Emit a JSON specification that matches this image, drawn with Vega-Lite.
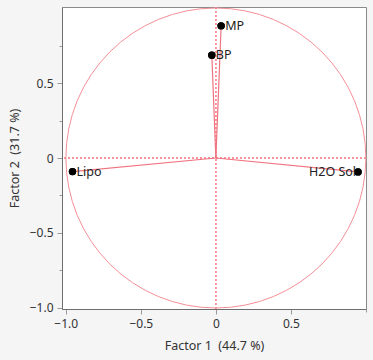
{
  "$schema": "https://vega.github.io/schema/vega-lite/v6.json",
  "width": 304,
  "height": 302,
  "autosize": {"type": "none"},
  "padding": {"left": 62, "top": 7, "right": 7, "bottom": 51},
  "background": "#f5f5f5",
  "config": {
    "view": {"fill": "white", "stroke": "#8a8a8a", "strokeWidth": 1},
    "font": "Noto Sans",
    "axis": {
      "grid": false,
      "domainColor": "#6e6e6e",
      "tickColor": "#9a9a9a",
      "labelColor": "#333333",
      "titleColor": "#333333",
      "labelFontSize": 12,
      "titleFontSize": 12.5,
      "titleFontWeight": "normal",
      "labelFont": "Noto Sans",
      "titleFont": "Noto Sans"
    }
  },
  "datasets": {
    "loadings": [
      {"variable": "MP", "f1": 0.035, "f2": 0.884},
      {"variable": "BP", "f1": -0.027, "f2": 0.687},
      {"variable": "Lipo", "f1": -0.955, "f2": -0.091},
      {"variable": "H2O Sol", "f1": 0.947, "f2": -0.093}
    ],
    "origin": [{"cx": 0, "cy": 0}]
  },
  "data": {"name": "loadings"},
  "layer": [
    {
      "mark": {"type": "point", "shape": "circle", "filled": true, "size": 55, "color": "black", "opacity": 1},
      "encoding": {
        "x": {
          "field": "f1", "type": "quantitative",
          "scale": {"domain": [-1.025, 1.0], "nice": false, "zero": false},
          "axis": {
            "values": [-1, -0.75, -0.5, -0.25, 0, 0.25, 0.5, 0.75, 1],
            "labelExpr": "datum.value == 0 ? '0' : (datum.value == -1 || datum.value == -0.5 || datum.value == 0.5) ? format(datum.value, '.1f') : ''",
            "tickSize": {"condition": {"test": "datum.value == -1 || datum.value == -0.5 || datum.value == 0 || datum.value == 0.5", "value": 5}, "value": 3},
            "title": "Factor 1\u00a0 (44.7 %)",
            "labelPadding": 4,
            "titlePadding": 10
          }
        },
        "y": {
          "field": "f2", "type": "quantitative",
          "scale": {"domain": [-1.01, 1.01], "nice": false, "zero": false},
          "axis": {
            "values": [-1, -0.75, -0.5, -0.25, 0, 0.25, 0.5, 0.75],
            "labelExpr": "datum.value == 0 ? '0' : (datum.value == -1 || datum.value == -0.5 || datum.value == 0.5) ? format(datum.value, '.1f') : ''",
            "tickSize": {"condition": {"test": "datum.value == -1 || datum.value == -0.5 || datum.value == 0 || datum.value == 0.5", "value": 5}, "value": 3},
            "title": "Factor 2\u00a0 (31.7 %)",
            "labelPadding": 4,
            "titlePadding": 8
          }
        }
      }
    },
    {
      "mark": {"type": "rule", "color": "#f58f97", "strokeDash": [2, 2], "strokeWidth": 1},
      "encoding": {"x": {"datum": 0, "type": "quantitative"}}
    },
    {
      "mark": {"type": "rule", "color": "#f58f97", "strokeDash": [2, 2], "strokeWidth": 1},
      "encoding": {"y": {"datum": 0, "type": "quantitative"}}
    },
    {
      "data": {"name": "origin"},
      "mark": {"type": "point", "shape": "circle", "filled": false, "size": 90000, "color": "#f58f97", "strokeWidth": 1, "opacity": 1},
      "encoding": {
        "x": {"field": "cx", "type": "quantitative"},
        "y": {"field": "cy", "type": "quantitative"}
      }
    },
    {
      "mark": {"type": "rule", "color": "#f07480", "strokeWidth": 1.2},
      "encoding": {
        "x": {"field": "f1", "type": "quantitative"},
        "y": {"field": "f2", "type": "quantitative"},
        "x2": {"datum": 0},
        "y2": {"datum": 0}
      }
    },
    {
      "mark": {"type": "point", "shape": "circle", "filled": true, "size": 55, "color": "black", "opacity": 1},
      "encoding": {
        "x": {"field": "f1", "type": "quantitative"},
        "y": {"field": "f2", "type": "quantitative"}
      }
    },
    {
      "transform": [{"filter": "datum.variable != 'H2O Sol'"}],
      "mark": {"type": "text", "align": "left", "dx": 4, "fontSize": 12.5, "color": "#222222", "font": "Noto Sans"},
      "encoding": {
        "x": {"field": "f1", "type": "quantitative"},
        "y": {"field": "f2", "type": "quantitative"},
        "text": {"field": "variable"}
      }
    },
    {
      "transform": [{"filter": "datum.variable == 'H2O Sol'"}],
      "mark": {"type": "text", "align": "right", "dx": -2, "fontSize": 12.5, "color": "#222222", "font": "Noto Sans"},
      "encoding": {
        "x": {"field": "f1", "type": "quantitative"},
        "y": {"field": "f2", "type": "quantitative"},
        "text": {"field": "variable"}
      }
    }
  ]
}
